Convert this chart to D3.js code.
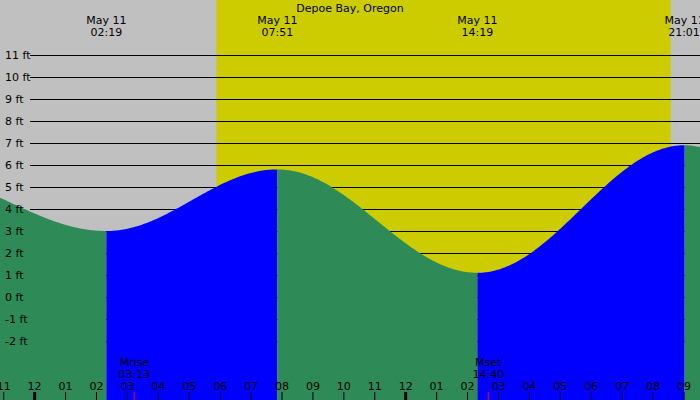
<!DOCTYPE html><html><head><script src="https://cdn.jsdelivr.net/npm/d3@7"></script>
<style>body{margin:0}text{font-family:"DejaVu Sans",sans-serif;font-size:11px}</style></head><body>
<svg id="c" width="700" height="400"></svg>
<script>
const title="Depoe Bay, Oregon";
// tide extremes: hours since May 11 00:00, heights in ft
const extTimes=[-3.9,2.32,7.85,14.32,21.02,27.5];
const extHeights=[5.6,3.0,5.8,1.1,6.9,0.5];
const labelTimes=[2.32,7.85,14.32,21.02];
const labelText=["02:19","07:51","14:19","21:01"];
const sunrise=5.88, sunset=20.57;
const moonTimes=[3.22,14.67], moonNames=["Mrise","Mset"], moonText=["03:13","14:40"];
const feetTicks=[11,10,9,8,7,6,5,4,3,2,1,0,-1,-2];
const hourTicks=d3.range(-1,22);

const svg=d3.select("#c");
const x=d3.scaleLinear().domain([8,21]).range([282,684]);
const y=d3.scaleLinear().domain([0,11]).range([297,55]);
function h(t){for(let i=0;i<extTimes.length-1;i++){if(t>=extTimes[i]&&t<=extTimes[i+1]){const f=(t-extTimes[i])/(extTimes[i+1]-extTimes[i]);return extHeights[i+1]+(extHeights[i]-extHeights[i+1])*(1+Math.cos(Math.PI*f))/2;}}return 0;}
const t0=x.invert(0),t1=x.invert(700);
svg.append("rect").attr("width",700).attr("height",400).attr("fill","#c0c0c0");
svg.append("rect").attr("x",x(sunrise)).attr("width",x(sunset)-x(sunrise)).attr("height",400).attr("fill","#cccc00");
feetTicks.forEach(v=>{svg.append("line").attr("x1",30).attr("x2",700).attr("y1",Math.round(y(v))+0.5).attr("y2",Math.round(y(v))+0.5).attr("stroke","#000").attr("shape-rendering","crispEdges");});
const bounds=[t0,...extTimes.filter(t=>t>t0&&t<t1),t1];
for(let i=0;i<bounds.length-1;i++){const a=bounds[i],b=bounds[i+1];
 const pts=d3.range(a,b,0.05).concat([b]);
 const rising=h(b)>h(a);
 svg.append("path").attr("fill",rising?"#0000ff":"#2e8b57").attr("d",d3.area().x(t=>x(t)).y0(400).y1(t=>y(h(t)))(pts));}
feetTicks.forEach(v=>{svg.append("text").attr("x",5).attr("y",y(v)+4).text(v+" ft");});
labelTimes.forEach((t,i)=>{svg.append("text").attr("x",x(t)).attr("y",24).attr("text-anchor","middle").text("May 11");
 svg.append("text").attr("x",Math.min(x(t),684)).attr("y",36).attr("text-anchor","middle").text(labelText[i]);});
svg.append("text").attr("x",350).attr("y",12).attr("text-anchor","middle").text(title);
hourTicks.forEach(t=>{const hh=((t%12)+12)%12||12;
 svg.append("text").attr("x",x(t)).attr("y",390).attr("text-anchor","middle").text(String(hh).padStart(2,"0"));
 svg.append("line").attr("x1",x(t)).attr("x2",x(t)).attr("y1",392).attr("y2",400).attr("stroke","#000").attr("stroke-width",(t===0||t===12)?3:1);});
moonTimes.forEach((t,i)=>{svg.append("text").attr("x",x(t)).attr("y",366).attr("text-anchor","middle").text(moonNames[i]);
 svg.append("text").attr("x",x(t)).attr("y",378).attr("text-anchor","middle").text(moonText[i]);
 svg.append("line").attr("x1",x(t)).attr("x2",x(t)).attr("y1",392).attr("y2",400).attr("stroke","red");});
</script></body></html>
